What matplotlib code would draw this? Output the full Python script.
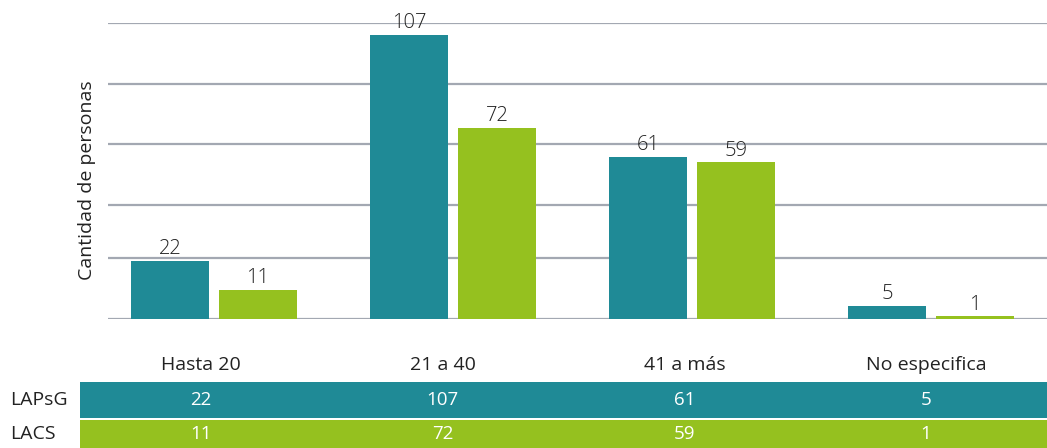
import matplotlib
matplotlib.use("Agg")
from matplotlib import pyplot as plt
import numpy as np

categories = ["Hasta 20", "21 a 40", "41 a más", "No especifica"]
series_names = ["LAPsG", "LACS"]
lapsg = [22, 107, 61, 5]
lacs = [11, 72, 59, 1]
grid_levels = [0, 23, 43, 66, 88.5, 111.5]

teal = "#1F8A96"
green = "#95C11F"
grid_col = "#A3A8B2"
txt = "#222222"

plt.rcParams['font.family'] = ['Open Sans', 'DejaVu Sans']

W, H = 1047, 448
fig = plt.figure(figsize=(W / 100, H / 100), dpi=100)

# main bar axes
ax = fig.add_axes([108 / W, 1 - 319 / H, 1 - 108 / W, (319 - 23) / H])
x = np.arange(len(categories))
bw = 0.326
gap = 0.042
off = (bw + gap) / 2
b1 = ax.bar(x - off, lapsg, bw, color=teal, zorder=3)
b2 = ax.bar(x + off, lacs, bw, color=green, zorder=3)
for bars, vals in [(b1, lapsg), (b2, lacs)]:
    for r, v in zip(bars, vals):
        ax.text(r.get_x() + r.get_width() / 2, v + 0.6, str(v),
                ha="center", va="bottom", fontsize=14.5, color=txt,
                fontweight="light", zorder=4)

ax.set_xlim(-0.4435, 3.485)
ax.set_ylim(0, grid_levels[-1])
ax.set_yticks(grid_levels)
ax.set_xticks([])
ax.yaxis.grid(True, color=grid_col, linewidth=1.6, zorder=0)
ax.tick_params(axis="y", length=0, labelleft=False)
for s in ax.spines.values():
    s.set_visible(False)
ax.set_axisbelow(True)
ax.set_ylabel("Cantidad de personas", fontsize=14, color=txt)
ax.yaxis.set_label_coords(-12 / (W - 108), 0.47)

# data table below
tx0, tx1 = 80, W
tab = fig.add_axes([tx0 / W, 0, (tx1 - tx0) / W, 100 / H])
tab.set_xlim(0, len(categories))
tab.set_ylim(448, 348)
tab.axis("off")
rows = [(series_names[0], lapsg, teal, 382, 418), (series_names[1], lacs, green, 420, 448)]
for name, vals, col, y0, y1 in rows:
    tab.axhspan(y0, y1, color=col, lw=0)
    for i, v in enumerate(vals):
        tab.text(i + 0.5, (y0 + y1) / 2, str(v), ha="center", va="center",
                 fontsize=13.5, color="white")
    fig.text(10 / W, 1 - ((y0 + y1) / 2) / H, name, ha="left", va="center",
             fontsize=14, color=txt)
for i, c in enumerate(categories):
    tab.text(i + 0.5, 365, c, ha="center", va="center", fontsize=14, color=txt)

fig.savefig("out.png", dpi=100)
